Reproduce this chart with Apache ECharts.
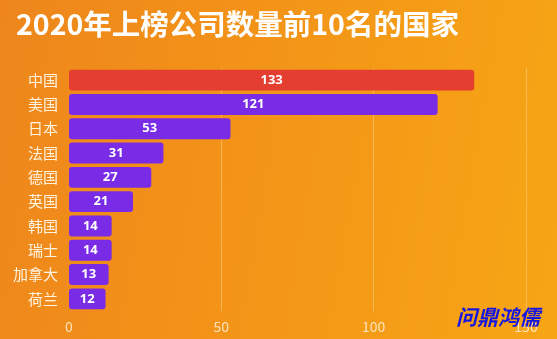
<!DOCTYPE html>
<html>
<head>
<meta charset="utf-8">
<script src="https://cdn.jsdelivr.net/npm/echarts@6/dist/echarts.min.js"></script>
<style>
  html, body { margin: 0; padding: 0; }
  #chart {
    width: 557px; height: 339px;
    background: linear-gradient(100deg, #ee861c 0%, #f39418 45%, #f7a615 100%);
  }
</style>
</head>
<body>
<div id="chart"></div>
<script>
const titleText = '2020年上榜公司数量前10名的国家';
const countries = ['中国', '美国', '日本', '法国', '德国', '英国', '韩国', '瑞士', '加拿大', '荷兰'];
const companyCounts = [133, 121, 53, 31, 27, 21, 14, 14, 13, 12];
const highlightCountry = '中国';
const xTicks = [0, 50, 100, 150];
const watermark = '问鼎鸿儒';

const chart = echarts.init(document.getElementById('chart'), null, { renderer: 'canvas' });
const FONT = '"Noto Sans CJK SC", "Noto Sans", sans-serif';

chart.setOption({
  animation: false,
  title: {
    text: titleText,
    left: 11,
    top: 5,
    textStyle: { color: '#ffffff', fontSize: 28.5, fontWeight: 'bold', fontFamily: FONT }
  },
  grid: { left: 69, right: 31, top: 68, bottom: 28, containLabel: false },
  xAxis: {
    type: 'value',
    min: xTicks[0],
    max: xTicks[xTicks.length - 1],
    interval: xTicks[1] - xTicks[0],
    axisLine: { show: false },
    axisTick: { show: false },
    axisLabel: {
      color: 'rgba(255,240,215,0.85)', fontSize: 14, margin: 9, fontFamily: FONT,
      showMaxLabel: true, hideOverlap: false
    },
    splitLine: { show: true, showMinLine: false, lineStyle: { color: 'rgba(255,235,200,0.35)', width: 1 } }
  },
  yAxis: {
    type: 'category',
    data: countries,
    inverse: true,
    axisLine: { show: false },
    axisTick: { show: false },
    axisLabel: { color: '#fff4e2', fontSize: 15, margin: 11, fontFamily: FONT }
  },
  series: [{
    type: 'bar',
    data: companyCounts.map((v, i) => ({
      value: v,
      itemStyle: { color: countries[i] === highlightCountry ? '#e43e30' : '#7a2be5' }
    })),
    barCategoryGap: '14%',
    itemStyle: { borderRadius: 3 },
    label: {
      show: true,
      position: 'inside',
      color: '#ffffff',
      fontSize: 13,
      fontWeight: 'bold',
      fontFamily: '"Open Sans", "Noto Sans", sans-serif'
    }
  }],
  graphic: [{
    type: 'text',
    right: 17,
    bottom: 11,
    z: 100,
    style: {
      text: watermark,
      fill: '#1616e0',
      font: 'italic bold 21px "Noto Sans CJK SC", sans-serif'
    }
  }]
});
</script>
</body>
</html>
